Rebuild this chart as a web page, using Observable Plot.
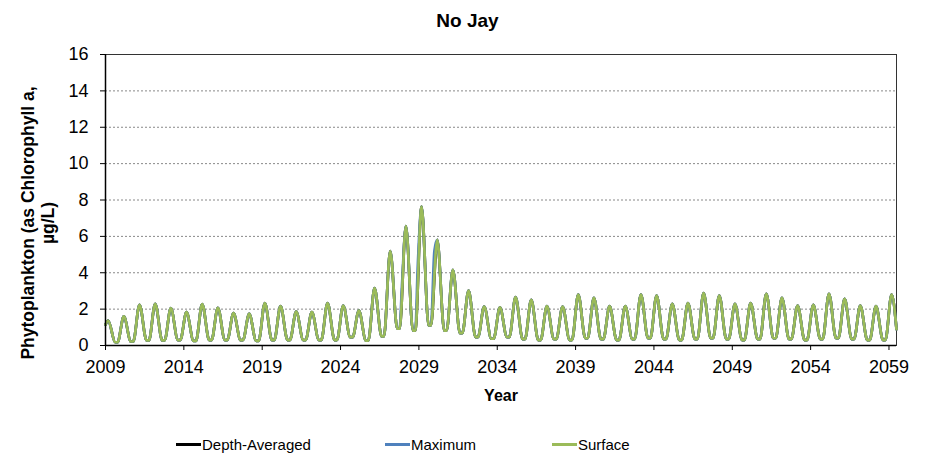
<!DOCTYPE html>
<html><head><meta charset="utf-8">
<script src="https://cdn.jsdelivr.net/npm/d3@7"></script>
<script src="https://cdn.jsdelivr.net/npm/@observablehq/plot@0.6"></script>
<style>
body{margin:0;background:#fff;font-family:"Liberation Sans",Arial,sans-serif;width:935px;height:461px;overflow:hidden;}
#title{height:40px;line-height:42px;text-align:center;font-weight:bold;font-size:19px;color:#000;}
#legend{position:relative;height:41px;font-size:15px;color:#000;}
.item{position:absolute;top:16px;display:flex;align-items:center;white-space:nowrap;}
.sw{display:inline-block;width:25px;height:2.5px;margin-right:1px;}
</style></head><body>
<div id="title">No Jay</div>
<div id="chart"></div>
<div id="legend"></div>
<script>
// ---- data ----
const years = d3.range(2009, 2060);            // one spring bloom per year
const xTicks = [2009, 2014, 2019, 2024, 2029, 2034, 2039, 2044, 2049, 2054, 2059];
const yTicks = [0, 2, 4, 6, 8, 10, 12, 14, 16];
const seriesNames = ["Depth-Averaged", "Maximum", "Surface"];
const seriesColors = ["#000000", "#4F81BD", "#9BBB59"];
const peakPhase = 0.17;      // fraction of year at which the bloom peaks
const lowStartPhase = 0.62;  // start of the seasonal low
const lowEndPhase = 0.77;    // end of the seasonal low
const startPoint = [2009.0, 1.15];
const endPoint = [2059.48, 0.9];
const peaks = [1.37, 1.60, 2.24, 2.29, 2.05, 1.83, 2.27, 2.07, 1.78, 1.74,
  2.33, 2.16, 1.87, 1.83, 2.33, 2.20, 1.92, 3.15, 5.19, 6.56,
  7.64, 5.81, 4.16, 3.02, 2.14, 2.10, 2.66, 2.51, 2.16, 2.14,
  2.80, 2.62, 2.16, 2.16, 2.80, 2.75, 2.29, 2.33, 2.88, 2.75,
  2.29, 2.33, 2.84, 2.62, 2.20, 2.24, 2.84, 2.56, 2.20, 2.16, 2.80];
const troughs = [0.18, 0.22, 0.28, 0.28, 0.30, 0.25, 0.30, 0.30, 0.30, 0.25,
  0.30, 0.30, 0.30, 0.30, 0.30, 0.46, 0.27, 0.50, 0.92, 0.82,
  1.10, 0.82, 0.68, 0.46, 0.37, 0.46, 0.35, 0.30, 0.35, 0.30,
  0.40, 0.35, 0.30, 0.35, 0.40, 0.35, 0.30, 0.35, 0.40, 0.35,
  0.30, 0.35, 0.40, 0.35, 0.30, 0.35, 0.40, 0.35, 0.30, 0.30];
// points where the Maximum line rises slightly ahead of the Surface line
const maxFlank = [[2027.92, 3.3], [2028.93, 4.4], [2029.99, 5.2]];

function build(name, extra) {
  const pts = [{x: startPoint[0], y: startPoint[1], s: name}];
  years.forEach((yr, i) => {
    pts.push({x: yr + peakPhase, y: peaks[i], s: name});
    if (i < troughs.length) {
      pts.push({x: yr + lowStartPhase, y: troughs[i], s: name});
      pts.push({x: yr + lowEndPhase, y: troughs[i], s: name});
    }
  });
  pts.push({x: endPoint[0], y: endPoint[1], s: name});
  extra.forEach(([x, y]) => pts.push({x, y, s: name}));
  return pts.sort((a, b) => a.x - b.x);
}
const depthAvg = build(seriesNames[0], []);
const maximum = build(seriesNames[1], maxFlank);
const surface = build(seriesNames[2], []);

const W = 935, H = 380;
const plot = Plot.plot({
  width: W, height: H,
  marginLeft: 105, marginRight: 39, marginTop: 14, marginBottom: 75,
  style: {fontFamily: '"Liberation Sans", Arial, sans-serif', fontSize: "18px", color: "#000", background: "#fff"},
  x: {domain: [2009, 2059.48], ticks: xTicks, tickFormat: "d", label: null},
  y: {domain: [0, 16], ticks: yTicks, label: null},
  marks: [
    Plot.ruleY(yTicks.filter(d => d > 0 && d < 16), {stroke: "#888", strokeDasharray: "2,2", strokeWidth: 1}),
    Plot.frame({stroke: "#333", strokeWidth: 1}),
    Plot.line(depthAvg, {x: "x", y: "y", stroke: seriesColors[0], strokeWidth: 2.7, curve: "monotone-x"}),
    Plot.line(maximum, {x: "x", y: "y", stroke: seriesColors[1], strokeWidth: 2.7, curve: "monotone-x"}),
    Plot.line(surface, {x: "x", y: "y", stroke: seriesColors[2], strokeWidth: 2.7, curve: "monotone-x"}),
    Plot.axisX({ticks: xTicks, tickFormat: "d", tickSize: 5, tickPadding: 10, fontSize: 18, label: null}),
    Plot.axisY({ticks: yTicks, tickSize: 5, tickPadding: 12, fontSize: 18, label: null}),
    Plot.ruleY([0], {stroke: "#000", strokeWidth: 1.5}),
    Plot.ruleX([2009], {stroke: "#000", strokeWidth: 1.5})
  ]
});
document.getElementById("chart").appendChild(plot);

const svg = d3.select(plot);
svg.append("text").attr("x", 501).attr("y", 361)
  .attr("text-anchor", "middle").attr("font-weight", "bold").attr("font-size", 16)
  .attr("fill", "#000").text("Year");
const yl = svg.append("text").attr("transform", "translate(37,183) rotate(-90)")
  .attr("text-anchor", "middle").attr("font-weight", "bold").attr("font-size", 17.5).attr("fill", "#000");
yl.append("tspan").attr("x", 0).attr("dy", "-0.15em").text("Phytoplankton (as Chlorophyll a,");
yl.append("tspan").attr("x", 0).attr("dy", "1.1em").text("µg/L)");

// legend
const legendX = [176, 385, 552];
const lg = d3.select("#legend");
seriesNames.forEach((n, i) => {
  const it = lg.append("div").attr("class", "item").style("left", legendX[i] + "px");
  it.append("span").attr("class", "sw").style("background", seriesColors[i]);
  it.append("span").text(n);
});
</script>
</body></html>
